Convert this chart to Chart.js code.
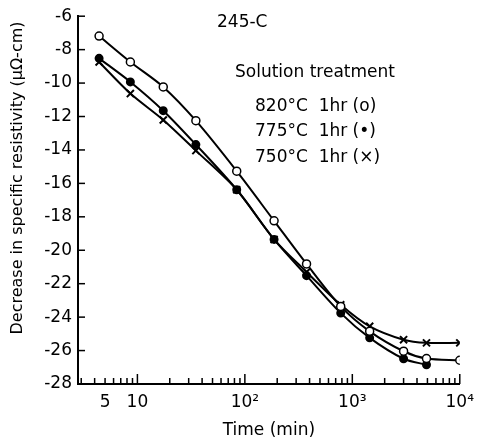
<!DOCTYPE html>
<html lang="en">
<head>
    <meta charset="UTF-8">
    <title>Decrease in specific resistivity vs time, 245-C</title>
    <script src="https://cdn.jsdelivr.net/npm/chart.js"></script>
    <style>
        html, body { margin: 0; padding: 0; background: #fff; }
        #wrap { width: 482px; height: 441px; }
    </style>
</head>
<body>
    <div id="wrap"><canvas id="resistChart"></canvas></div>

    <script>
        // ageing times (min)
        const times = [4.4, 8.6, 17.4, 35, 84, 187, 375, 780, 1450, 3000, 4900, 10000];

        // decrease in specific resistivity for each solution treatment
        const st820 = [-7.19, -8.74, -10.23, -12.25, -15.27, -18.24, -20.82, -23.36, -24.85, -26.04, -26.48, -26.58];
        const st775 = [-8.52, -9.93, -11.65, -13.68, -16.38, -19.35, -21.52, -23.76, -25.24, -26.49, -26.85];
        const st750 = [-8.74, -10.63, -12.21, -14.04, -16.38, -19.35, -21.3, -23.26, -24.55, -25.35, -25.54, -25.54];

        // axis ticks
        const xTicks = [3, 4, 5, 6, 7, 8, 9, 10, 20, 30, 40, 50, 60, 70, 80, 90,
                        100, 200, 300, 400, 500, 600, 700, 800, 900,
                        1000, 2000, 3000, 4000, 5000, 6000, 7000, 8000, 9000, 10000];
        const xLabels = { 5: '5', 10: '10', 100: '10²', 1000: '10³', 10000: '10⁴' };

        const notes = ['245-C', 'Solution treatment', '820°C  1hr (o)', '775°C  1hr (•)', '750°C  1hr (×)'];

        const FONT = 'DejaVu Sans';

        function pts(vals) {
            return vals.map((v, i) => ({ x: times[i], y: v }));
        }

        // little inward tick marks + text like the printed figure
        const figureBits = {
            id: 'figureBits',
            afterDraw(chart) {
                const ctx = chart.ctx;
                const xs = chart.scales.x, ys = chart.scales.y;
                const area = chart.chartArea;
                ctx.save();
                ctx.strokeStyle = '#000';
                ctx.lineWidth = 1.5;
                xs.ticks.forEach(t => {
                    const px = xs.getPixelForValue(t.value);
                    const major = Math.abs(Math.log10(t.value) % 1) < 1e-9;
                    ctx.beginPath();
                    ctx.moveTo(px, area.bottom);
                    ctx.lineTo(px, area.bottom - (major ? 10 : 6));
                    ctx.stroke();
                });
                ys.ticks.forEach(t => {
                    const py = ys.getPixelForValue(t.value);
                    ctx.beginPath();
                    ctx.moveTo(area.left, py);
                    ctx.lineTo(area.left + 7, py);
                    ctx.stroke();
                });

                ctx.fillStyle = '#000';
                ctx.textBaseline = 'middle';
                ctx.textAlign = 'left';
                ctx.font = '17px "' + FONT + '"';
                ctx.fillText(notes[0], 217, 23);
                ctx.fillText(notes[1], 235, 73);
                ctx.fillText(notes[2], 255, 107);
                ctx.fillText(notes[3], 255, 132);
                ctx.fillText(notes[4], 255, 158);

                // y axis title
                ctx.font = '16px "' + FONT + '"';
                ctx.translate(18, 178);
                ctx.rotate(-Math.PI / 2);
                ctx.textAlign = 'center';
                ctx.fillText('Decrease in specific resistivity (μΩ-cm)', 0, 0);
                ctx.restore();
            }
        };

        new Chart(document.getElementById('resistChart'), {
            type: 'line',
            data: {
                datasets: [
                    {
                        label: '820°C 1hr',
                        data: pts(st820),
                        borderColor: '#000',
                        borderWidth: 2,
                        pointStyle: 'circle',
                        pointRadius: 4,
                        pointBorderWidth: 1.5,
                        pointBackgroundColor: '#fff',
                        pointBorderColor: '#000',
                        tension: 0.3
                    },
                    {
                        label: '775°C 1hr',
                        data: pts(st775),
                        borderColor: '#000',
                        borderWidth: 2,
                        pointStyle: 'circle',
                        pointRadius: 3.5,
                        pointBackgroundColor: '#000',
                        pointBorderColor: '#000',
                        tension: 0.3
                    },
                    {
                        label: '750°C 1hr',
                        data: pts(st750),
                        borderColor: '#000',
                        borderWidth: 2,
                        pointStyle: 'crossRot',
                        pointRadius: 5,
                        pointBorderWidth: 2,
                        pointBorderColor: '#000',
                        tension: 0.3
                    }
                ]
            },
            options: {
                responsive: true,
                maintainAspectRatio: false,
                animation: false,
                layout: { padding: { top: 15, right: 20, left: 0, bottom: 0 } },
                plugins: {
                    legend: { display: false },
                    tooltip: { enabled: false }
                },
                scales: {
                    x: {
                        type: 'logarithmic',
                        min: 2.8,
                        max: 10000,
                        afterBuildTicks: s => { s.ticks = xTicks.map(v => ({ value: v })); },
                        afterFit: s => { s.height = 57; },
                        grid: { display: false, drawTicks: false },
                        border: { display: true, color: '#000', width: 2 },
                        ticks: {
                            autoSkip: false,
                            maxRotation: 0,
                            padding: 8,
                            color: '#000',
                            font: { family: FONT, size: 17 },
                            callback: v => xLabels[v] || ''
                        },
                        title: {
                            display: true,
                            text: 'Time (min)',
                            color: '#000',
                            font: { family: FONT, size: 17 },
                            padding: { top: 2, bottom: 0 }
                        }
                    },
                    y: {
                        min: -28,
                        max: -6,
                        afterFit: s => { s.width = 78; },
                        grid: { display: false, drawTicks: false },
                        border: { display: true, color: '#000', width: 2 },
                        ticks: {
                            stepSize: 2,
                            padding: 6,
                            color: '#000',
                            font: { family: FONT, size: 17 }
                        }
                    }
                }
            },
            plugins: [figureBits]
        });
    </script>
</body>
</html>
